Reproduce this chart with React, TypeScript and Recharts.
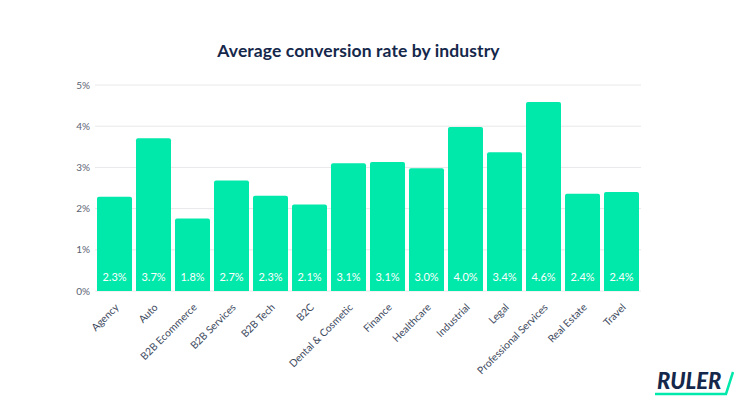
import { BarChart, Bar, XAxis, YAxis, CartesianGrid, LabelList } from "recharts";

const industries = [
  "Agency",
  "Auto",
  "B2B Ecommerce",
  "B2B Services",
  "B2B Tech",
  "B2C",
  "Dental & Cosmetic",
  "Finance",
  "Healthcare",
  "Industrial",
  "Legal",
  "Professional Services",
  "Real Estate",
  "Travel",
];
const rates = [2.29, 3.71, 1.76, 2.68, 2.31, 2.1, 3.1, 3.13, 2.98, 3.98, 3.37, 4.59, 2.36, 2.4];
const yTicks = [0, 1, 2, 3, 4, 5];

const data = industries.map((name, i) => ({ name, rate: rates[i] }));

const FONT = "Lato, 'Open Sans', sans-serif";
const GREEN = "#00E8AA";
const NAVY = "#15284B";

function AngledTick({ x, y, payload }: any) {
  const tx = x + 5;
  const ty = y + 9;
  return (
    <text
      x={tx}
      y={ty}
      transform={`rotate(-45, ${tx}, ${ty})`}
      textAnchor="end"
      fontSize={10.3}
      fontFamily={FONT}
      fill="#3E4A5E"
    >
      {payload.value}
    </text>
  );
}

function Logo() {
  return (
    <svg width={90} height={34} style={{ position: "absolute", left: 650, top: 364 }}>
      <text
        x={7}
        y={25}
        fontSize={22}
        fontWeight={900}
        fontStyle="italic"
        fontFamily={FONT}
        fill={NAVY}
      >
        RULER
      </text>
      <polyline points="5,30 76,30 83,8" fill="none" stroke={GREEN} strokeWidth={2.5} />
    </svg>
  );
}

export default function App() {
  return (
    <div style={{ position: "absolute", left: 0, top: 0, width: 752, height: 419, background: "#fff" }}>
      <div
        style={{
          position: "absolute",
          top: 40,
          left: 0,
          width: 717,
          textAlign: "center",
          fontFamily: FONT,
          fontWeight: 700,
          fontSize: 17.5,
          letterSpacing: 0.1,
          color: NAVY,
        }}
      >
        Average conversion rate by industry
      </div>
      <BarChart
        width={752}
        height={419}
        data={data}
        margin={{ top: 85, right: 111, left: 60, bottom: 0 }}
        barCategoryGap={2}
      >
        <CartesianGrid vertical={false} stroke="#E8E8EA" />
        <XAxis
          dataKey="name"
          interval={0}
          axisLine={false}
          tickLine={false}
          tick={<AngledTick />}
          height={128}
        />
        <YAxis
          domain={[0, 5]}
          ticks={yTicks}
          width={35}
          axisLine={false}
          tickLine={false}
          tickSize={5}
          tickMargin={0}
          tickFormatter={(v: number) => `${v}%`}
          tick={{ fontSize: 10, fontFamily: FONT, fill: "#5B6373" }}
        />
        <Bar dataKey="rate" fill={GREEN} radius={[2, 2, 0, 0]} isAnimationActive={false}>
          <LabelList
            dataKey="rate"
            position="insideBottom"
            offset={10}
            formatter={(v: any) => `${Number(v).toFixed(1)}%`}
            fill="#fff"
            fontSize={11}
            fontFamily={FONT}
          />
        </Bar>
      </BarChart>
      <Logo />
    </div>
  );
}
